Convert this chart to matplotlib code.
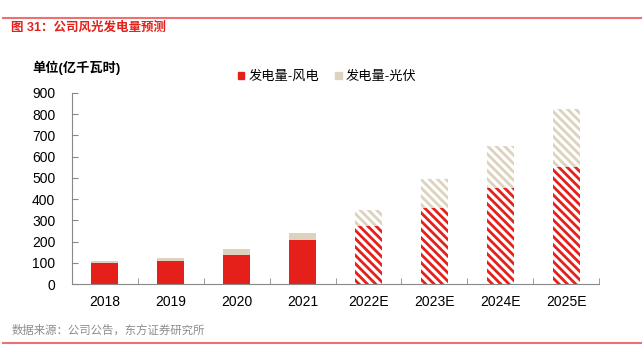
import matplotlib
matplotlib.use("Agg")
import matplotlib.pyplot as plt
from matplotlib.patches import Patch
from matplotlib.lines import Line2D
import numpy as np

plt.rcParams['font.family'] = ['Liberation Sans', 'Noto Sans CJK SC', 'DejaVu Sans']
plt.rcParams['hatch.linewidth'] = 2.0

# data (亿千瓦时)
years = ['2018', '2019', '2020', '2021', '2022E', '2023E', '2024E', '2025E']
wind = [98, 108, 138, 206, 275, 360, 454, 551]
solar = [12, 14, 25, 36, 74, 135, 196, 274]
is_forecast = [False, False, False, False, True, True, True, True]

RED = '#E5201B'
BEIGE = '#DDD2BE'
HATCH = '\\' * 4

fig = plt.figure(figsize=(6.44, 3.48), dpi=100)
ax = fig.add_axes([72 / 644, 1 - 284 / 348, 527 / 644, 191 / 348])

x = np.arange(len(years))
w = 0.41
for i in range(len(years)):
    if is_forecast[i]:
        ax.bar(x[i], wind[i], w, color='white', edgecolor=RED, hatch=HATCH, linewidth=0)
        ax.bar(x[i], solar[i], w, bottom=wind[i], color='white', edgecolor=BEIGE,
               hatch=HATCH, linewidth=0)
    else:
        ax.bar(x[i], wind[i], w, color=RED, linewidth=0)
        ax.bar(x[i], solar[i], w, bottom=wind[i], color=BEIGE, linewidth=0)

ax.set_xlim(-0.5, 7.5)
ax.set_ylim(0, 900)
ax.set_yticks(range(0, 901, 100))
ax.set_xticks(x)
ax.set_xticklabels(years)
ax.set_xticks(np.arange(-0.5, 8, 1), minor=True)
for s in ['top', 'right']:
    ax.spines[s].set_visible(False)
ax.spines['left'].set_color('#888888')
ax.spines['bottom'].set_color('#888888')
ax.tick_params(axis='x', which='major', length=0, pad=8, labelsize=10)
ax.tick_params(axis='x', which='minor', length=4, color='#888888', direction='in')
ax.tick_params(axis='y', length=4, color='#888888', direction='in', pad=12, labelsize=10)

handles = [Patch(color=RED), Patch(color=BEIGE)]
fig.legend(handles, ['发电量-风电', '发电量-光伏'], loc='center', bbox_to_anchor=(327 / 644, 1 - 77 / 348),
           ncol=2, frameon=False, fontsize=9.5, handlelength=0.5, handleheight=0.5,
           handletextpad=0.3, columnspacing=1.2)

fig.text(32 / 644, 1 - 68 / 348, '单位(亿千瓦时)', fontsize=9.5, fontweight='bold', va='center')
fig.text(11 / 644, 1 - 28 / 348, '图 31：公司风光发电量预测', fontsize=9, fontweight='bold',
         color='#E5201B', va='center')
fig.text(12 / 644, 1 - 330 / 348, '数据来源：公司公告，东方证券研究所', fontsize=8.2,
         color='#8C8C8C', va='center')

fig.add_artist(Line2D([3 / 644, 641 / 644], [1 - 17.5 / 348] * 2, color='#EE7070', lw=1.5))
fig.add_artist(Line2D([3 / 644, 641 / 644], [1 - 343 / 348] * 2, color='#EE7070', lw=1.5))

fig.savefig('out.png', dpi=100)
